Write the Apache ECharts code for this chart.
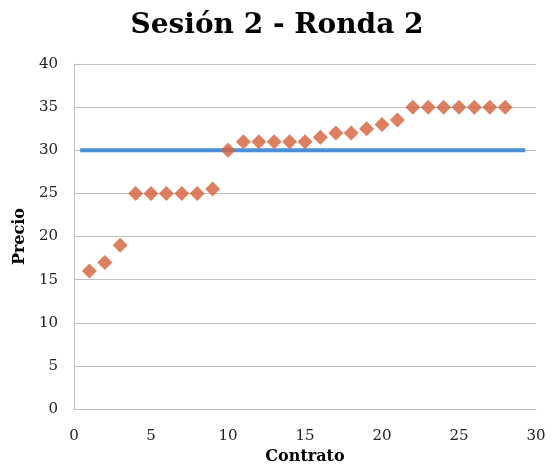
<!DOCTYPE html>
<html>
<head>
<meta charset="utf-8">
<script src="https://cdn.jsdelivr.net/npm/echarts@6/dist/echarts.min.js"></script>
<style>html,body{margin:0;padding:0;background:#fff;}#c{width:554px;height:470px;}</style>
</head>
<body>
<div id="c"></div>
<script>
var contratos = [1,2,3,4,5,6,7,8,9,10,11,12,13,14,15,16,17,18,19,20,21,22,23,24,25,26,27,28];
var precios = [16,17,19,25,25,25,25,25,25.5,30,31,31,31,31,31,31.5,32,32,32.5,33,33.5,35,35,35,35,35,35,35];
var lineaX = [0.4, 29.3];
var lineaY = [30, 30];
var xTicks = {min:0, max:30, interval:5};
var yTicks = {min:0, max:40, interval:5};

var font = '"DejaVu Serif", serif';
var chart = echarts.init(document.getElementById('c'));
chart.setOption({
  animation:false,
  title:{text:'Sesión 2 - Ronda 2', left:'center', top:7,
    textStyle:{fontFamily:font, fontWeight:'bold', fontSize:28, color:'#000'}},
  grid:{left:74, right:18, top:64, bottom:59},
  xAxis:{type:'value', min:xTicks.min, max:xTicks.max, interval:xTicks.interval,
    name:'Contrato', nameLocation:'middle', nameGap:38,
    nameTextStyle:{fontFamily:font, fontWeight:'bold', fontSize:16, color:'#000'},
    axisLine:{lineStyle:{color:'#bfbfbf', width:1}}, axisTick:{show:false},
    splitLine:{show:false},
    axisLabel:{fontFamily:font, fontSize:15, color:'#222', margin:20}},
  yAxis:{type:'value', min:yTicks.min, max:yTicks.max, interval:yTicks.interval,
    name:'Precio', nameLocation:'middle', nameGap:42,
    nameTextStyle:{fontFamily:font, fontWeight:'bold', fontSize:16, color:'#000'},
    axisLine:{show:true, lineStyle:{color:'#bfbfbf', width:1}}, axisTick:{show:false},
    splitLine:{lineStyle:{color:'#bfbfbf', width:1}},
    axisLabel:{fontFamily:font, fontSize:15, color:'#222', margin:16}},
  series:[
    {type:'line', data:lineaX.map(function(x,i){return [x, lineaY[i]];}),
      showSymbol:false, lineStyle:{color:'#4a8fd8', width:4}, z:2},
    {type:'scatter', data:contratos.map(function(x,i){return [x, precios[i]];}),
      symbol:'diamond', symbolSize:15, itemStyle:{color:'#d5603b'}, z:3}
  ]
});
</script>
</body>
</html>
